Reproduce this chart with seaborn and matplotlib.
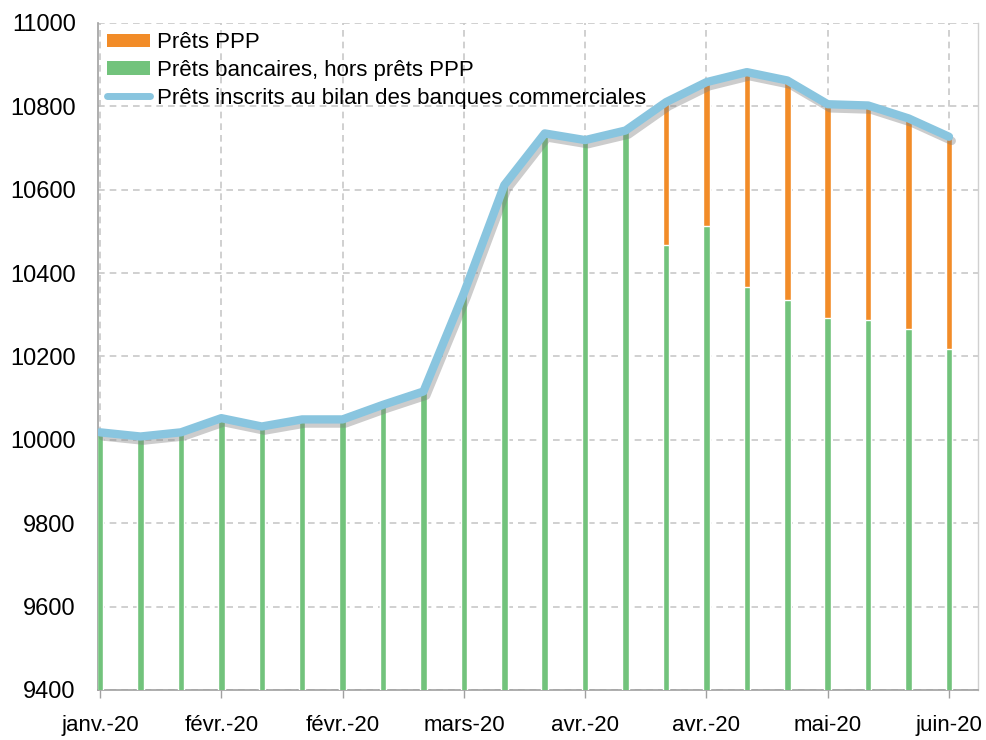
import numpy as np
import pandas as pd
import matplotlib
matplotlib.use("Agg")
import matplotlib.pyplot as plt
import matplotlib.patheffects as pe
from matplotlib.patches import Patch
from matplotlib.lines import Line2D
import seaborn as sns

# Weekly loans (billions USD), Jan - Jun 2020
total_loans = [10018, 10008, 10018, 10052, 10032, 10049, 10049, 10084, 10116, 10352, 10611,
               10735, 10719, 10742, 10810, 10858, 10882, 10862, 10805, 10802, 10771, 10727]
bank_ex_ppp = [10018, 10008, 10018, 10052, 10032, 10049, 10049, 10084, 10116, 10352, 10611,
               10735, 10719, 10742, 10467, 10514, 10366, 10336, 10292, 10288, 10265, 10217]
tick_labels = ["janv.-20", "févr.-20", "févr.-20", "mars-20", "avr.-20", "avr.-20", "mai-20", "juin-20"]
legend_labels = ["Prêts PPP", "Prêts bancaires, hors prêts PPP",
                 "Prêts inscrits au bilan des banques commerciales"]

c_orange = "#f28c28"
c_green = "#72c37c"
c_blue = "#89c5df"

df = pd.DataFrame({"week": np.arange(len(total_loans)), "total": total_loans, "bank": bank_ex_ppp})

sns.set_style("white")
plt.rcParams["font.family"] = ["Liberation Sans", "DejaVu Sans"]

fig = plt.figure(figsize=(9.86, 7.40), dpi=100)
ax = fig.add_axes([0.0994, 0.0676, 0.8926, 0.9014])

# orange = total (PPP on top), green drawn over it
sns.barplot(data=df, x="week", y="total", color=c_orange, width=0.16, saturation=1,
            errorbar=None, ax=ax, zorder=2)
sns.barplot(data=df, x="week", y="bank", color=c_green, width=0.16, saturation=1,
            errorbar=None, ax=ax, zorder=3)
sns.lineplot(data=df, x="week", y="total", color=c_blue, lw=6, ax=ax, zorder=4,
             path_effects=[pe.SimpleLineShadow(offset=(2, -3), shadow_color="gray", alpha=0.4),
                           pe.Normal()])

ax.set_ylim(9400, 11000)
ax.set_xlim(-0.05, 21.72)
ax.set_yticks(np.arange(9400, 11001, 200))
ax.set_xticks(np.arange(0, 22, 3))
ax.set_xticklabels(tick_labels)
ax.set_xlabel("")
ax.set_ylabel("")
ax.tick_params(axis="y", labelsize=17, length=0, pad=16, labelcolor="black")
ax.tick_params(axis="x", labelsize=16, length=6, width=1, color="#a0a0a0", pad=12,
               bottom=True, labelcolor="black")

ax.grid(True, linestyle=(0, (4, 3)), color="#c8c8c8", lw=1.2, zorder=0)
ax.set_axisbelow(True)
for s in ["left", "bottom"]:
    ax.spines[s].set_color("#a0a0a0")
    ax.spines[s].set_linewidth(1.2)
ax.spines["top"].set_visible(False)
ax.spines["right"].set_color("#d0d0d0")
ax.spines["right"].set_linewidth(1)

handles = [Patch(facecolor=c_orange, edgecolor="none"),
           Patch(facecolor=c_green, edgecolor="none"),
           Line2D([0], [0], color=c_blue, lw=5)]
leg = ax.legend(handles, legend_labels, loc="upper left", bbox_to_anchor=(0.0, 1.0),
                frameon=False, fontsize=16, handlelength=1.9, handleheight=0.55,
                handletextpad=0.35, labelspacing=0.3, borderaxespad=0.0, borderpad=0.42)
for t in leg.get_texts():
    t.set_color("black")

fig.savefig("out.png", dpi=100)
